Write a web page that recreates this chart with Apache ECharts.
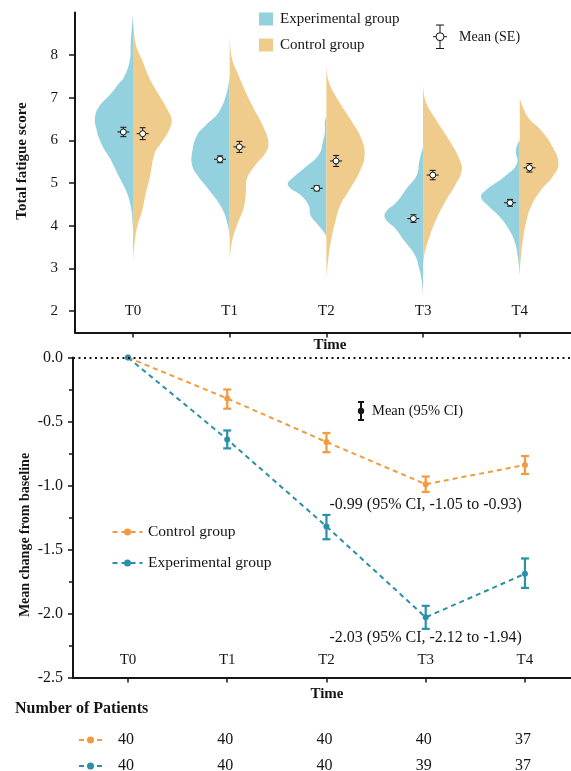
<!DOCTYPE html>
<html>
<head>
<meta charset="utf-8">
<script src="https://cdn.jsdelivr.net/npm/echarts@6/dist/echarts.min.js"></script>
<style>
html, body { margin: 0; padding: 0; background: #fff; }
#chart { width: 571px; height: 771px; }
</style>
</head>
<body>
<div id="chart"></div>
<script>
const timePoints = ['T0', 'T1', 'T2', 'T3', 'T4'];
const fatigueTicks = [2, 3, 4, 5, 6, 7, 8];

// violin outlines, one per time point: [score, relative density]
const expDensity = [
    [[8.94,0],[8.27,0.06],[7.88,0.08],[7.49,0.23],[7.34,0.36],[7.10,0.57],[6.79,0.88],[6.55,0.98],[6.32,0.96],[5.93,0.82],[5.54,0.57],[5.15,0.36],[4.76,0.15],[4.37,0.04],[4.06,0.01],[3.95,0]],
    [[7.55,0],[7.14,0.07],[6.67,0.28],[6.36,0.62],[6.13,0.84],[5.73,0.97],[5.42,0.97],[5.19,0.84],[4.80,0.5],[4.41,0.2],[4.02,0.05],[3.70,0]],
    [[6.55,0],[6.45,0.04],[6.20,0.04],[5.97,0.09],[5.66,0.2],[5.34,0.59],[5.11,0.89],[4.99,1.0],[4.88,0.93],[4.72,0.67],[4.48,0.46],[4.25,0.41],[4.09,0.28],[3.86,0.07],[3.74,0]],
    [[5.85,0],[5.50,0.1],[5.19,0.16],[4.88,0.42],[4.56,0.68],[4.33,0.96],[4.17,0.98],[3.94,0.72],[3.63,0.47],[3.31,0.21],[3.00,0.1],[2.69,0.03],[2.34,0]],
    [[6.01,0],[5.77,0.1],[5.46,0.07],[5.15,0.4],[4.84,0.87],[4.68,1.0],[4.48,0.83],[4.21,0.52],[3.90,0.27],[3.59,0.12],[3.27,0.05],[2.84,0]]
];
const ctrlDensity = [
    [[8.94,0],[8.27,0.07],[7.88,0.24],[7.49,0.41],[7.10,0.65],[6.71,0.9],[6.48,1.0],[6.24,0.93],[5.93,0.72],[5.70,0.56],[5.15,0.44],[4.76,0.33],[4.37,0.24],[3.98,0.11],[3.59,0.04],[3.16,0]],
    [[8.51,0],[7.92,0.06],[7.53,0.23],[7.14,0.41],[6.75,0.62],[6.36,0.85],[5.97,1.0],[5.73,0.94],[5.42,0.66],[5.11,0.45],[4.80,0.42],[4.41,0.36],[4.02,0.19],[3.63,0.06],[3.20,0]],
    [[7.80,0],[7.38,0.06],[6.98,0.28],[6.44,0.66],[6.05,0.9],[5.66,0.99],[5.27,0.86],[4.88,0.62],[4.48,0.36],[4.09,0.23],[3.70,0.13],[3.31,0.06],[2.80,0]],
    [[7.30,0],[6.91,0.07],[6.52,0.31],[5.97,0.7],[5.58,0.93],[5.30,1.0],[4.95,0.83],[4.56,0.57],[4.17,0.35],[3.78,0.18],[3.39,0.05],[3.08,0]],
    [[6.98,0],[6.55,0.21],[6.24,0.55],[5.85,0.85],[5.46,1.0],[5.15,0.85],[4.84,0.55],[4.45,0.29],[4.06,0.16],[3.67,0.08],[3.27,0.03],[2.96,0]]
];
const expMean = [6.20, 5.56, 4.88, 4.17, 4.54];
const expSE = [0.11, 0.08, 0.06, 0.09, 0.08];
const ctrlMean = [6.16, 5.85, 5.52, 5.19, 5.36];
const ctrlSE = [0.14, 0.13, 0.13, 0.11, 0.10];

// mean change from baseline with 95% CI
const ctrlChange = [0, -0.32, -0.66, -0.99, -0.84];
const ctrlLow = [0, -0.40, -0.74, -1.05, -0.91];
const ctrlHigh = [0, -0.25, -0.59, -0.93, -0.77];
const expChange = [0, -0.64, -1.32, -2.03, -1.69];
const expLow = [0, -0.71, -1.42, -2.12, -1.80];
const expHigh = [0, -0.57, -1.23, -1.94, -1.57];

const ctrlN = [40, 40, 40, 40, 37];
const expN = [40, 40, 40, 39, 37];

const FONT = "'Liberation Serif', 'Times New Roman', serif";
const INK = '#151515';
const TEAL_FILL = '#92d1dd';
const SAND_FILL = '#f0cc8c';
const ORANGE = '#f39a3e';
const TEAL = '#2a8fa8';
const violinHalf = 0.4;

const chart = echarts.init(document.getElementById('chart'), null, {renderer: 'canvas'});

function violinSeries(name, profiles, side, color) {
    return {
        name: name,
        type: 'custom',
        xAxisIndex: 0,
        yAxisIndex: 0,
        silent: true,
        z: 2,
        itemStyle: {color: color},
        data: timePoints.map((t, i) => [i, 5]),
        renderItem(params, api) {
            const i = api.value(0);
            const pts = profiles[i].map(p => api.coord([i + side * p[1] * violinHalf, p[0]]));
            // smoothed outline may round outwards a little, but never past the centre or the tips
            const xs = pts.map(p => p[0]), ys = pts.map(p => p[1]);
            const minX = Math.min(...xs) - (side < 0 ? 4 : 0);
            const maxX = Math.max(...xs) + (side > 0 ? 4 : 0);
            const box = [[minX, Math.min(...ys)], [maxX, Math.max(...ys)]];
            return {
                type: 'polygon',
                shape: {points: pts, smooth: 0.45, smoothConstraint: box},
                style: {fill: color}
            };
        }
    };
}

function meanSeries(means, ses, offset) {
    return {
        type: 'custom',
        xAxisIndex: 0,
        yAxisIndex: 0,
        silent: true,
        z: 5,
        data: means.map((m, i) => [i + offset, m, ses[i]]),
        renderItem(params, api) {
            const c = api.coord([api.value(0), api.value(1)]);
            const top = api.coord([api.value(0), api.value(1) + api.value(2)])[1];
            const bot = api.coord([api.value(0), api.value(1) - api.value(2)])[1];
            const st = {stroke: INK, lineWidth: 1};
            return {
                type: 'group',
                children: [
                    {type: 'line', shape: {x1: c[0], y1: top, x2: c[0], y2: bot}, style: st},
                    {type: 'line', shape: {x1: c[0] - 3, y1: top, x2: c[0] + 3, y2: top}, style: st},
                    {type: 'line', shape: {x1: c[0] - 3, y1: bot, x2: c[0] + 3, y2: bot}, style: st},
                    {type: 'line', shape: {x1: c[0] - 6, y1: c[1], x2: c[0] + 6, y2: c[1]}, style: st},
                    {type: 'circle', shape: {cx: c[0], cy: c[1], r: 3}, style: {fill: '#fff', stroke: INK, lineWidth: 1}}
                ]
            };
        }
    };
}

function ciSeries(low, high, color) {
    return {
        type: 'custom',
        xAxisIndex: 1,
        yAxisIndex: 1,
        silent: true,
        z: 4,
        data: low.map((l, i) => [i, l, high[i]]).slice(1),
        renderItem(params, api) {
            const lo = api.coord([api.value(0), api.value(1)]);
            const hi = api.coord([api.value(0), api.value(2)]);
            const st = {stroke: color, lineWidth: 2.2};
            return {
                type: 'group',
                children: [
                    {type: 'line', shape: {x1: lo[0], y1: lo[1], x2: hi[0], y2: hi[1]}, style: st},
                    {type: 'line', shape: {x1: lo[0] - 4, y1: lo[1], x2: lo[0] + 4, y2: lo[1]}, style: st},
                    {type: 'line', shape: {x1: hi[0] - 4, y1: hi[1], x2: hi[0] + 4, y2: hi[1]}, style: st}
                ]
            };
        }
    };
}

function lineSeries(name, values, color) {
    return {
        name: name,
        type: 'line',
        xAxisIndex: 1,
        yAxisIndex: 1,
        z: 3,
        data: values.map((v, i) => [i, v]),
        symbol: 'circle',
        symbolSize: 6,
        itemStyle: {color: color},
        lineStyle: {color: color, width: 2, type: [5, 4]}
    };
}

const timeAxisLabel = {
    inside: true,
    customValues: [0, 1, 2, 3, 4],
    formatter: v => timePoints[v],
    fontSize: 15,
    color: INK,
    fontFamily: FONT
};

const options = {
    animation: false,
    textStyle: {fontFamily: FONT, color: INK},
    grid: [
        {left: 75, right: 0, top: 12.5, height: 320},
        {left: 73, right: 0, top: 357.5, height: 320}
    ],
    xAxis: [
        {
            type: 'value', gridIndex: 0, min: -0.6, max: 4.53,
            axisLine: {onZero: false, lineStyle: {color: INK, width: 2}},
            axisTick: {customValues: [0, 1, 2, 3, 4], length: 5, lineStyle: {color: INK, width: 1.5}},
            axisLabel: Object.assign({}, timeAxisLabel, {margin: 14}),
            splitLine: {show: false}
        },
        {
            type: 'value', gridIndex: 1, min: -0.554, max: 4.464,
            axisLine: {onZero: false, lineStyle: {color: INK, width: 2}},
            axisTick: {customValues: [0, 1, 2, 3, 4], length: 5, lineStyle: {color: INK, width: 1.5}},
            axisLabel: Object.assign({}, timeAxisLabel, {margin: 10}),
            splitLine: {show: false}
        }
    ],
    yAxis: [
        {
            type: 'value', gridIndex: 0, min: 1.5, max: 9,
            axisLine: {show: true, onZero: false, lineStyle: {color: INK, width: 2}},
            axisTick: {show: true, customValues: fatigueTicks, length: 6, lineStyle: {color: INK, width: 1.5}},
            axisLabel: {customValues: fatigueTicks, margin: 17, fontSize: 15, color: INK, fontFamily: FONT},
            splitLine: {show: false}
        },
        {
            type: 'value', gridIndex: 1, min: -2.5, max: 0, interval: 0.5,
            axisLine: {show: true, onZero: false, lineStyle: {color: INK, width: 2}},
            axisTick: {show: true, length: 5, lineStyle: {color: INK, width: 1.5}},
            minorTick: {show: true, splitNumber: 2, length: 4, lineStyle: {color: INK, width: 1.5}},
            axisLabel: {margin: 10, fontSize: 16, color: INK, fontFamily: FONT, formatter: v => v.toFixed(1)},
            splitLine: {show: false}
        }
    ],
    series: [
        violinSeries('Experimental group', expDensity, -1, TEAL_FILL),
        violinSeries('Control group', ctrlDensity, 1, SAND_FILL),
        meanSeries(expMean, expSE, -0.1),
        meanSeries(ctrlMean, ctrlSE, 0.1),
        Object.assign(lineSeries('Control change', ctrlChange, ORANGE), {
            markLine: {
                silent: true, symbol: 'none', label: {show: false},
                lineStyle: {color: INK, width: 2, type: [2, 3.5]},
                data: [{yAxis: 0}]
            }
        }),
        ciSeries(ctrlLow, ctrlHigh, ORANGE),
        lineSeries('Experimental change', expChange, TEAL),
        ciSeries(expLow, expHigh, TEAL)
    ]
};
chart.setOption(options);

// legends, titles, annotations and the patient table
function px(x, y) {
    return chart.convertToPixel({xAxisIndex: 1, yAxisIndex: 1}, [x, y]);
}
function txt(x, y, text, extra) {
    return {type: 'text', x: x, y: y, silent: true,
        style: Object.assign({text: text, font: '14px ' + FONT, fill: INK, align: 'left', verticalAlign: 'middle'}, extra || {})};
}
function dashIcon(cx, cy, color, half) {
    return [
        {type: 'line', silent: true, shape: {x1: cx - half, y1: cy, x2: cx + half, y2: cy}, style: {stroke: color, lineWidth: 2, lineDash: [5, 4]}},
        {type: 'circle', silent: true, shape: {cx: cx, cy: cy, r: 3.5}, style: {fill: color}}
    ];
}

const g = [];
// top legend
g.push({type: 'rect', silent: true, shape: {x: 259, y: 12.5, width: 14, height: 13}, style: {fill: TEAL_FILL}});
g.push(txt(280, 19, 'Experimental group', {font: '15px ' + FONT}));
g.push({type: 'rect', silent: true, shape: {x: 259, y: 38.5, width: 14, height: 13}, style: {fill: SAND_FILL}});
g.push(txt(280, 45, 'Control group', {font: '15px ' + FONT}));
g.push({type: 'line', silent: true, shape: {x1: 440, y1: 25, x2: 440, y2: 48.5}, style: {stroke: INK, lineWidth: 1}});
g.push({type: 'line', silent: true, shape: {x1: 436, y1: 25, x2: 444, y2: 25}, style: {stroke: INK, lineWidth: 1}});
g.push({type: 'line', silent: true, shape: {x1: 436, y1: 48.5, x2: 444, y2: 48.5}, style: {stroke: INK, lineWidth: 1}});
g.push({type: 'line', silent: true, shape: {x1: 433, y1: 36.7, x2: 447, y2: 36.7}, style: {stroke: INK, lineWidth: 1}});
g.push({type: 'circle', silent: true, shape: {cx: 440, cy: 36.7, r: 4}, style: {fill: '#fff', stroke: INK, lineWidth: 1}});
g.push(txt(459, 37, 'Mean (SE)'));

// axis titles
g.push(txt(22, 161, 'Total fatigue score', {font: 'bold 15px ' + FONT, align: 'center'}));
g[g.length - 1].rotation = Math.PI / 2;
g.push(txt(25, 535, 'Mean change from baseline', {font: 'bold 14px ' + FONT, align: 'center'}));
g[g.length - 1].rotation = Math.PI / 2;
g.push(txt(330, 345, 'Time', {font: 'bold 15px ' + FONT, align: 'center'}));
g.push(txt(327, 694, 'Time', {font: 'bold 15px ' + FONT, align: 'center'}));

// bottom legend
g.push(...dashIcon(127.5, 532, ORANGE, 15));
g.push(txt(148, 532, 'Control group', {font: '15.5px ' + FONT}));
g.push(...dashIcon(127.5, 563, TEAL, 15));
g.push(txt(148, 563, 'Experimental group', {font: '15.5px ' + FONT}));
g.push({type: 'line', silent: true, shape: {x1: 361, y1: 402, x2: 361, y2: 420}, style: {stroke: INK, lineWidth: 2}});
g.push({type: 'line', silent: true, shape: {x1: 358, y1: 402, x2: 364, y2: 402}, style: {stroke: INK, lineWidth: 2}});
g.push({type: 'line', silent: true, shape: {x1: 358, y1: 420, x2: 364, y2: 420}, style: {stroke: INK, lineWidth: 2}});
g.push({type: 'circle', silent: true, shape: {cx: 361, cy: 411, r: 3.2}, style: {fill: INK}});
g.push(txt(372, 411, 'Mean (95% CI)', {font: '14.5px ' + FONT}));

// T3 annotations
const a1 = px(3, -1.15);
g.push(txt(a1[0], a1[1], '-0.99 (95% CI, -1.05 to -0.93)', {font: '16px ' + FONT, align: 'center'}));
const a2 = px(3, -2.19);
g.push(txt(a2[0], a2[1], '-2.03 (95% CI, -2.12 to -1.94)', {font: '16px ' + FONT, align: 'center'}));

// number of patients
g.push(txt(15, 709, 'Number of Patients', {font: 'bold 16px ' + FONT}));
g.push(...dashIcon(90.5, 740, ORANGE, 11.5));
g.push(...dashIcon(90.5, 766, TEAL, 11.5));
timePoints.forEach((t, i) => {
    const x = px(i, 0)[0] - 2;
    g.push(txt(x, 740, String(ctrlN[i]), {font: '16px ' + FONT, align: 'center'}));
    g.push(txt(x, 766, String(expN[i]), {font: '16px ' + FONT, align: 'center'}));
});

chart.setOption({graphic: {elements: g}});
</script>
